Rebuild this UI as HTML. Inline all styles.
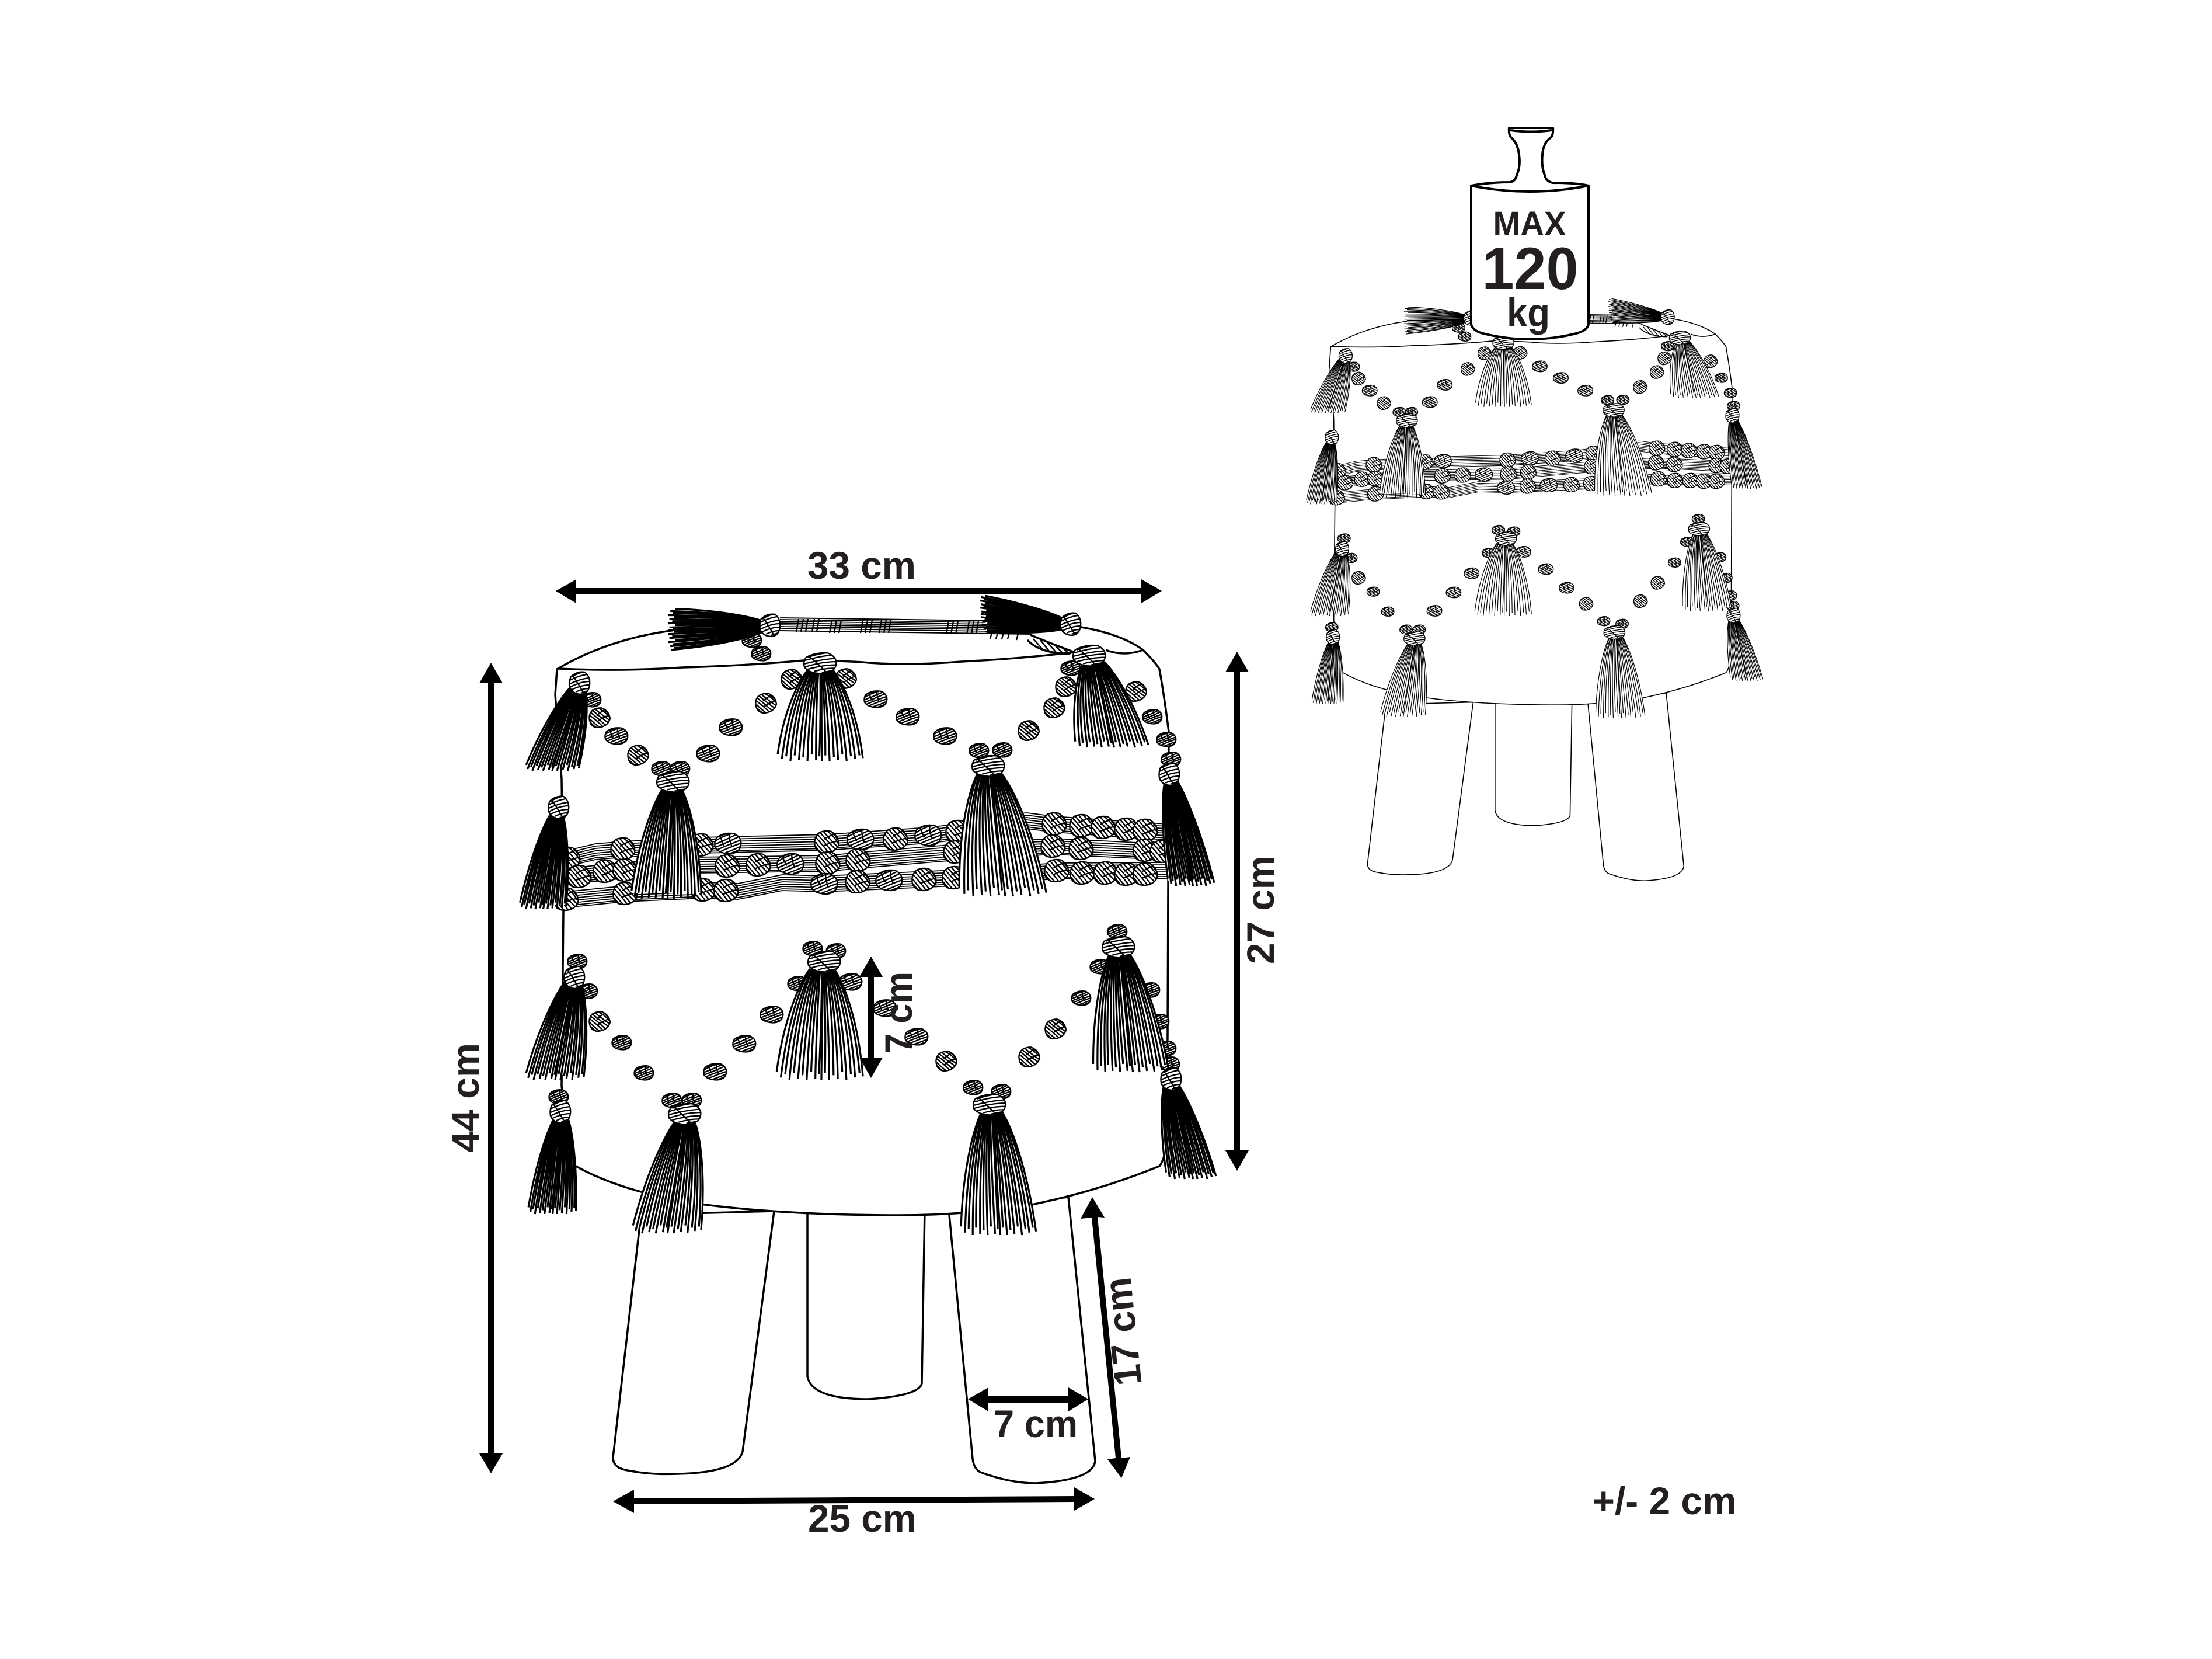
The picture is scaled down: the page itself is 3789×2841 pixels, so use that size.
<!DOCTYPE html>
<html><head><meta charset="utf-8"><title>Stool dimensions</title>
<style>
html,body{margin:0;padding:0;background:#fff}
svg{display:block}
.o,.o *{vector-effect:non-scaling-stroke}
.ol{fill:none;stroke:#000;stroke-width:var(--o)}
.fl{fill:#fff;stroke:#000;stroke-width:var(--o)}
.st{fill:none;stroke:#000;stroke-width:var(--s);stroke-linecap:butt}
.ha{fill:none;stroke:#000;stroke-width:var(--h);stroke-linejoin:round}
.r{fill:none;stroke:#000;stroke-width:var(--r);stroke-linejoin:round}
.hf{fill:#fff;stroke:#000;stroke-width:var(--h)}
.t{font-family:"Liberation Sans",sans-serif;font-weight:700;fill:#231f20;text-anchor:middle}
</style></head>
<body>
<svg xmlns="http://www.w3.org/2000/svg" width="3789" height="2841" viewBox="0 0 3789 2841">
<defs>
<g id="u" class="o"><path class="hf" d="M-9-5Q-3-11 5-9Q11-5 10 2Q9 9 2 10Q-7 10-10 4Q-11-1-9-5Z"/><path class="ha" d="M-8-6Q-4-8-1-9M-10-2Q-4-7 3-9M-10 1Q-2-3 6-8M-10 4Q0-1 8-6M-8 6Q1 1 10-3M-6 8Q3 3 10 0M-2 9Q5 6 10 3M2 9.5Q6 8 9 6M-6-7Q-5-2-3 2M1-8Q1-3 3 3"/></g>
<g id="v" class="o"><path class="hf" d="M-9-5Q-3-10 5-9Q11-5 10 2Q9 9 2 10Q-7 10-10 4Q-11-1-9-5Z"/><path class="ha" d="M-8-5Q-2-8 3-9M-10-2Q-1-6 7-7M-10 1Q0-3 9-4M-10 4Q1-1 10-1M-8 6Q2 2 10 2M-4 8Q3 5 9 5M1 9Q5 8 8 7M-7-6Q-2 0 4 9"/></g>
<use id="b" href="#u" transform="scale(1.9 1.45)"/>
<use id="b2" href="#u" transform="rotate(70) scale(1.6 1.8)"/>
<use id="c" href="#u" transform="scale(2.2 1.8)"/>
<use id="c2" href="#u" transform="rotate(80) scale(1.85 2.1)"/>
<use id="d" href="#u" transform="scale(1.6 1.25)"/>
<use id="k" href="#v" transform="scale(2.7 1.85)"/>
<use id="e" href="#v" transform="scale(1.7 2)"/>
<g id="t" class="o"><path fill="#fff" d="M-14 0C-25 12-43 45-50 95L50 95C43 45 25 12 14 0Z"/><path class="st" d="M-14 0C-25 12-43 45-50 93M-13 0C-23 12-38 45-45 98M-11 0C-20 12-34 45-40 95M-10 0C-18 12-30 45-35 100M-8 0C-15 12-26 45-30 94M-7 0C-13 12-21 45-25 99M-6 0C-10 12-17 45-20 96M-4 0C-8 12-13 45-15 100M-3 0C-5 12-9 45-10 93M-2 0C-3 12-5 45-5 99M0 0C0 10 1 45-1 95M1 0C2 10 1 45 2 100M2 0C3 12 6 45 6 94M3 0C5 12 9 45 11 100M4 0C8 12 14 45 16 96M6 0C10 12 18 45 21 99M7 0C13 12 22 45 26 93M9 0C15 12 26 45 31 100M10 0C18 12 31 45 36 95M12 0C20 12 35 45 41 98M13 0C23 12 39 45 46 94M14 0C25 12 43 45 50 97"/></g>
<path id="r1" class="r o" d="M970 1470L1020 1458L1067 1454L1201 1447L1416 1442L1590 1430L1641 1424L1700 1410L1759 1405L1806 1411L1962 1422L2002 1424"/>
<path id="r2" class="r o" d="M962 1501L1071 1490L1193 1481L1418 1478L1470 1473L1637 1459L1804 1449L1991 1458"/>
<path id="r3" class="r o" d="M970 1540L1071 1530L1205 1524L1264 1526L1340 1511L1412 1513L1635 1503L1810 1491L2006 1490"/>
<path id="r4" class="r o" d="M1336 1068L1767 1074"/>
<g id="rope">
<use href="#r1" y="-13"/><use href="#r1" y="-9"/><use href="#r1" y="-5"/><use href="#r1" y="-1"/><use href="#r1" y="3"/><use href="#r1" y="7"/><use href="#r1" y="11"/><use href="#r1" y="14"/>
<use href="#r2" y="-13"/><use href="#r2" y="-9"/><use href="#r2" y="-5"/><use href="#r2" y="-1"/><use href="#r2" y="3"/><use href="#r2" y="7"/><use href="#r2" y="11"/><use href="#r2" y="14"/>
<use href="#r3" y="-13"/><use href="#r3" y="-9"/><use href="#r3" y="-5"/><use href="#r3" y="-1"/><use href="#r3" y="3"/><use href="#r3" y="7"/><use href="#r3" y="11"/><use href="#r3" y="14"/>
</g>
<g id="stool">
<!-- legs -->
<path class="fl o" d="M1098 2080L1050 2496Q1050 2514 1075 2518Q1115 2526 1160 2524Q1262 2522 1272 2486L1326 2074Z"/>
<path class="fl o" d="M1383 2070L1383 2357Q1390 2396 1488 2396Q1575 2390 1579 2369L1584 2070Z"/>
<path class="fl o" d="M1625 2070L1666 2498Q1668 2515 1679 2521Q1730 2540 1774 2540Q1872 2535 1876 2502L1830 2050Z"/>
<!-- body -->
<path class="fl o" d="M954 1146Q1040 1095 1149 1080L1336 1070L1767 1080L1846 1073Q1920 1085 1958 1113Q1980 1135 1986 1146Q1994 1190 2002 1253L2000 1773L1998 1952Q1996 1985 1986 1997Q1880 2040 1767 2063Q1650 2082 1528 2081Q1330 2080 1193 2061Q1060 2040 981 1994L962 1860L965 1560L962 1334L951 1190Z"/>
<path class="ol o" d="M956 1145Q1060 1150 1169 1143Q1280 1140 1376 1131Q1460 1132 1488 1135Q1560 1140 1647 1133Q1750 1128 1838 1117M1894 1113Q1925 1125 1958 1113"/>
<!-- top rope -->
<path d="M1336 1069L1767 1075" fill="none" stroke="#000" stroke-width="24"/>
<path d="M1336 1069L1767 1075" fill="none" stroke="#fff" stroke-width="20"/>
<use href="#r4" y="-7"/><use href="#r4" y="-4"/><use href="#r4" y="-1"/><use href="#r4" y="2"/><use href="#r4" y="5"/><use href="#r4" y="8"/>
<path class="ha o" d="M1368 1060l-4 22M1376 1060l-4 22M1384 1060l-4 22M1395 1060l-4 22M1403 1060l-4 22M1425 1062l-4 22M1433 1062l-4 22M1441 1062l-4 22M1478 1062l-4 22M1486 1062l-4 22M1494 1062l-4 22M1510 1062l-4 22M1518 1062l-4 22M1526 1062l-4 22M1625 1064l-4 22M1633 1064l-4 22M1641 1064l-4 22M1660 1064l-4 22M1668 1064l-4 22M1676 1064l-4 22"/>
<path class="ol o" d="M1690 1084Q1750 1076 1767 1088Q1790 1098 1838 1116L1830 1120Q1780 1118 1760 1096"/>
<path class="ha o" d="M1700 1080l-4 14M1710 1080l-4 14M1720 1080l-4 14M1730 1080l-4 14M1745 1082l-4 14M1770 1094l16 18M1782 1096l16 20M1794 1100l16 18M1806 1104l14 14M1818 1108l12 10"/>
<!-- band -->
<use href="#rope"/>
<use href="#c2" x="1067" y="1454"/><use href="#c2" x="1201" y="1447"/><use href="#c" x="1247" y="1444"/><use href="#c2" x="1416" y="1442"/><use href="#c" x="1474" y="1437"/><use href="#c2" x="1534" y="1437"/><use href="#c" x="1590" y="1430"/><use href="#c2" x="1641" y="1424"/><use href="#c2" x="1806" y="1411"/><use href="#c2" x="1853" y="1414"/><use href="#c2" x="1890" y="1417"/><use href="#c2" x="1930" y="1420"/><use href="#c2" x="1962" y="1422"/>
<use href="#c2" x="973" y="1470"/><use href="#c2" x="992" y="1501"/><use href="#c2" x="1037" y="1492"/><use href="#c2" x="1071" y="1490"/><use href="#c2" x="1246" y="1483"/><use href="#c2" x="1299" y="1481"/><use href="#c" x="1354" y="1479"/><use href="#c2" x="1418" y="1478"/><use href="#c2" x="1470" y="1473"/><use href="#c2" x="1637" y="1459"/><use href="#c2" x="1804" y="1449"/><use href="#c2" x="1852" y="1453"/><use href="#c2" x="1962" y="1456"/><use href="#c2" x="1991" y="1458"/>
<use href="#c2" x="970" y="1540"/><use href="#c2" x="1071" y="1530"/><use href="#c2" x="1205" y="1524"/><use href="#c2" x="1244" y="1525"/><use href="#c" x="1412" y="1513"/><use href="#c2" x="1469" y="1510"/><use href="#c" x="1523" y="1507"/><use href="#c2" x="1583" y="1506"/><use href="#c2" x="1635" y="1503"/><use href="#c2" x="1810" y="1491"/><use href="#c2" x="1854" y="1495"/><use href="#c2" x="1894" y="1495"/><use href="#c2" x="1930" y="1497"/><use href="#c2" x="1962" y="1497"/>
<!-- zigzag upper -->
<use href="#b2" x="1027" y="1229"/><use href="#b" x="1056" y="1260"/><use href="#b2" x="1093" y="1293"/><use href="#b" x="1213" y="1290"/><use href="#b" x="1252" y="1245"/><use href="#b2" x="1312" y="1204"/><use href="#b" x="1500" y="1197"/><use href="#b" x="1555" y="1227"/><use href="#b" x="1619" y="1260"/><use href="#b2" x="1762" y="1251"/><use href="#b2" x="1806" y="1212"/><use href="#b2" x="1826" y="1176"/><use href="#b2" x="1946" y="1184"/><use href="#d" x="1974" y="1227"/><use href="#d" x="1998" y="1266"/><use href="#d" x="1013" y="1198"/><use href="#b2" x="1356" y="1163"/><use href="#b2" x="1449" y="1162"/><use href="#d" x="1834" y="1144"/><use href="#d" x="1288" y="1096"/><use href="#d" x="1304" y="1119"/>
<!-- zigzag lower -->
<use href="#b2" x="1027" y="1749"/><use href="#d" x="1065" y="1785"/><use href="#d" x="1103" y="1837"/><use href="#b" x="1225" y="1835"/><use href="#b" x="1275" y="1787"/><use href="#b" x="1322" y="1737"/><use href="#b" x="1516" y="1726"/><use href="#b" x="1570" y="1775"/><use href="#b2" x="1621" y="1817"/><use href="#b2" x="1763" y="1810"/><use href="#b2" x="1808" y="1762"/><use href="#d" x="1852" y="1709"/><use href="#d" x="1970" y="1695"/><use href="#d" x="1986" y="1749"/><use href="#d" x="1998" y="1795"/><use href="#d" x="1007" y="1697"/><use href="#b" x="1457" y="1681"/><use href="#d" x="1366" y="1684"/><use href="#d" x="1884" y="1655"/>
<!-- buds -->
<use href="#d" x="1133" y="1316"/><use href="#d" x="1165" y="1316"/><use href="#d" x="1677" y="1285"/><use href="#d" x="1717" y="1284"/><use href="#d" x="2006" y="1300"/>
<use href="#d" x="989" y="1646"/><use href="#d" x="1392" y="1624"/><use href="#d" x="1432" y="1628"/><use href="#d" x="1914" y="1595"/><use href="#d" x="957" y="1878"/><use href="#d" x="1151" y="1884"/><use href="#d" x="1185" y="1884"/><use href="#d" x="1667" y="1862"/><use href="#d" x="1715" y="1869"/><use href="#d" x="2004" y="1822"/>
<!-- tassels -->
<use href="#t" transform="matrix(.92 0 -.45 1.42 989 1178)"/>
<use href="#t" transform="matrix(1.46 0 0 1.57 1405 1146)"/>
<use href="#t" transform="matrix(1.24 0 .32 1.47 1874 1133)"/>
<use href="#t" transform="matrix(1.2 0 -.1 1.87 1151 1352)"/>
<use href="#t" transform="matrix(1.48 0 .24 2.1 1695 1325)"/>
<use href="#t" transform="matrix(.8 0 -.24 1.61 953 1396)"/>
<use href="#t" transform="matrix(.78 0 .36 1.79 2006 1338)"/>
<use href="#t" transform="matrix(1 0 -.32 1.67 981 1682)"/>
<use href="#t" transform="matrix(1.48 0 -.04 1.9 1408 1659)"/>
<use href="#t" transform="matrix(1.28 0 .2 2.01 1918 1635)"/>
<use href="#t" transform="matrix(.82 0 -.16 1.65 961 1914)"/>
<use href="#t" transform="matrix(1.18 0 -.32 1.92 1173 1920)"/>
<use href="#t" transform="matrix(1.28 0 .12 2.1 1699 1905)"/>
<use href="#t" transform="matrix(.84 0 .36 1.63 2006 1856)"/>
<use href="#t" transform="matrix(0 .7 -1.6 .05 1305 1073)"/>
<use href="#t" transform="matrix(.05 .62 -1.42 -.18 1822 1068)"/>
<!-- knots -->
<use href="#e" x="993" y="1169"/><use href="#k" x="1405" y="1135"/><use href="#k" x="1866" y="1122"/><use href="#k" x="1153" y="1338"/><use href="#k" x="1693" y="1311"/><use href="#e" x="957" y="1382"/><use href="#e" x="2003" y="1325"/>
<use href="#e" x="984" y="1673"/><use href="#k" x="1412" y="1646"/><use href="#k" x="1916" y="1621"/><use href="#e" x="960" y="1903"/><use href="#k" x="1173" y="1907"/><use href="#k" x="1695" y="1891"/><use href="#e" x="2006" y="1847"/>
<use href="#e" x="1319" y="1070"/><use href="#e" x="1834" y="1068"/>
</g>
</defs>
<rect width="3789" height="2841" fill="#fff"/>
<!-- main stool -->
<use href="#stool" style="--o:3.5px;--s:3.2px;--h:2.3px;--r:1.8px"/>
<!-- small stool -->
<use href="#stool" transform="translate(1653.6 -158) scale(.656)" style="--o:1.6px;--s:1.15px;--h:1.3px;--r:.9px"/>
<!-- weight -->
<g fill="#fff" stroke="#000" stroke-width="4" stroke-linejoin="round">
<path d="M2520 318L2520 555Q2522 566 2540 571Q2620 591 2700 571Q2719 566 2721 555L2721 318Q2700 313 2659 313Q2648 310 2646 300Q2640 285 2642 265Q2643 245 2657 235Q2661 230 2660 219L2585 219Q2584 230 2588 235Q2600 245 2602 265Q2605 285 2598 300Q2596 310 2587 312Q2550 312 2520 318Z"/>
<path fill="none" d="M2520 318Q2620 338 2721 318M2587 223Q2622 228 2658 223"/>
</g>
<text class="t" x="2620" y="403" font-size="58" textLength="125" lengthAdjust="spacingAndGlyphs">MAX</text>
<text class="t" x="2621" y="495" font-size="102" textLength="165" lengthAdjust="spacingAndGlyphs">120</text>
<text class="t" x="2618" y="559" font-size="69" textLength="74" lengthAdjust="spacingAndGlyphs">kg</text>
<!-- dimension arrows -->
<g fill="#000">
<polygon points="952,1012 987,992 987,1007 1955,1007 1955,992 1990,1012 1955,1033 1955,1017 987,1017 987,1033"/>
<polygon points="841,1135 861,1170 846,1170 846,2489 861,2489 841,2523 821,2489 836,2489 836,1170 821,1170"/>
<polygon points="2119,1116 2139,1151 2124,1151 2124,1970 2139,1970 2119,2005 2099,1970 2114,1970 2114,1151 2099,1151"/>
<polygon points="1492,1638 1512,1673 1497,1673 1497,1811 1512,1811 1492,1846 1472,1811 1487,1811 1487,1673 1472,1673"/>
<polygon points="1871,2050 1892,2085 1880,2084 1921,2497 1936,2495 1921,2531 1897,2499 1911,2497 1870,2085 1851,2087"/>
<polygon points="1658,2396 1693,2376 1693,2391 1830,2391 1830,2376 1864,2396 1830,2417 1830,2402 1693,2402 1693,2417"/>
<polygon points="1050,2571 1086,2551 1086,2566 1840,2562 1840,2547 1875,2567 1840,2587 1840,2572 1086,2576 1086,2591"/>
</g>
<text class="t" x="1476" y="991" font-size="66" textLength="186" lengthAdjust="spacingAndGlyphs">33 cm</text>
<text class="t" transform="translate(820 1880) rotate(-90)" font-size="66" textLength="188" lengthAdjust="spacingAndGlyphs">44 cm</text>
<text class="t" transform="translate(2182 1558) rotate(-90)" font-size="66" textLength="186" lengthAdjust="spacingAndGlyphs">27 cm</text>
<text class="t" transform="translate(1562 1734) rotate(-90)" font-size="66" textLength="140" lengthAdjust="spacingAndGlyphs">7 cm</text>
<text class="t" transform="translate(1946 2278) rotate(-96)" font-size="66" textLength="186" lengthAdjust="spacingAndGlyphs">17 cm</text>
<text class="t" x="1774" y="2461" font-size="66" textLength="144" lengthAdjust="spacingAndGlyphs">7 cm</text>
<text class="t" x="1477" y="2623" font-size="66" textLength="186" lengthAdjust="spacingAndGlyphs">25 cm</text>
<text class="t" x="2851" y="2593" font-size="66" textLength="247" lengthAdjust="spacingAndGlyphs">+/- 2 cm</text>
</svg>
</body></html>
